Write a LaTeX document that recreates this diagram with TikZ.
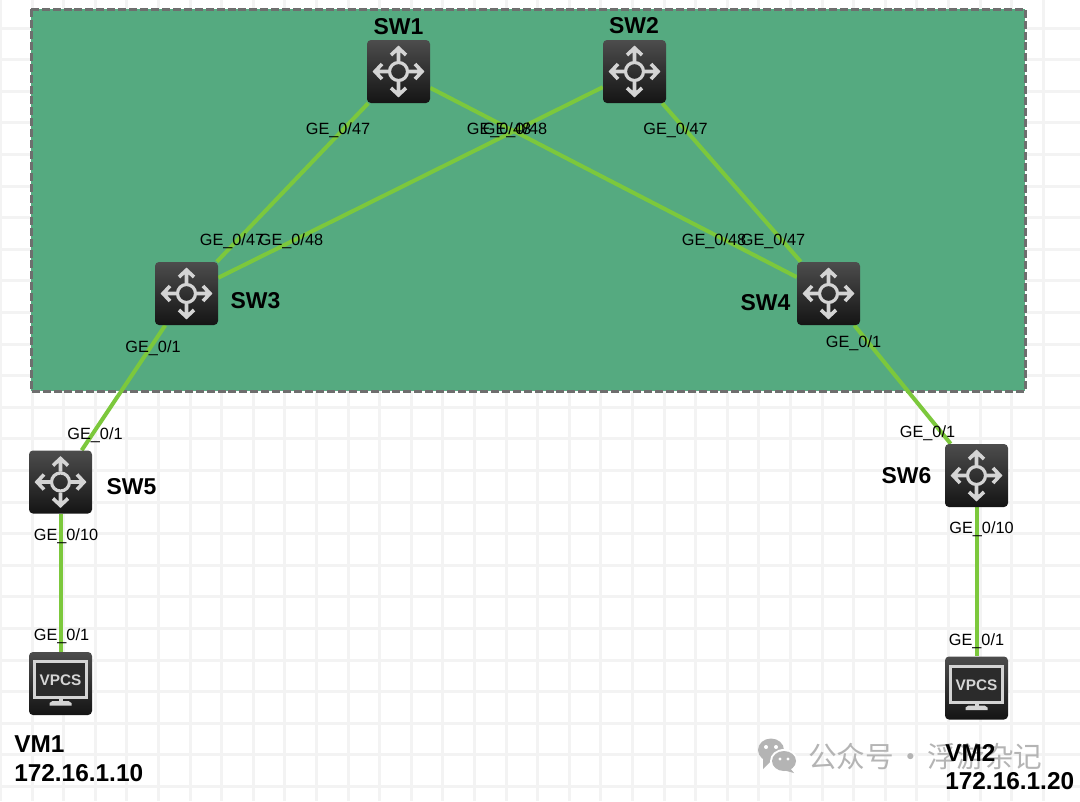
\documentclass[tikz,border=0pt]{standalone}
\usepackage{fontspec}
\setmainfont{Liberation Sans}
\newfontfamily\cjkwm{Noto Sans CJK SC}
\usetikzlibrary{backgrounds,arrows.meta}
\definecolor{zone}{HTML}{55AA80}
\definecolor{zoneedge}{HTML}{6E6E6E}
\definecolor{gridc}{HTML}{F3F3F3}
\definecolor{linkc}{HTML}{7CC83C}
\definecolor{glyphc}{HTML}{D4D4D4}
\definecolor{iconin}{HTML}{2B2B2B}
\definecolor{wmark}{HTML}{B4B4B4}
\tikzset{
  px/.style={line width=#1*0.75pt},
  iconbase/.style={minimum width=47.25pt,minimum height=47.25pt,inner sep=0pt,rounded corners=3pt,
    top color=black!70,bottom color=black!92,draw=none},
  switchbox/.style={iconbase,path picture={
    \begin{scope}[shift={(path picture bounding box.center)},glyphc,px=3.6,line cap=butt,miter limit=10,sharp corners]
      \draw (10.5,0) -- (22,0) (16.5,-7.5) -- (23.5,0) -- (16.5,7.5);
      \draw (-10.5,0) -- (-22,0) (-16.5,-7.5) -- (-23.5,0) -- (-16.5,7.5);
      \draw (0,10.5) -- (0,22) (-7.5,16.5) -- (0,23.5) -- (7.5,16.5);
      \draw (0,-10.5) -- (0,-22) (-7.5,-16.5) -- (0,-23.5) -- (7.5,-16.5);
      \draw[px=3.2] (0,0) circle (9);
    \end{scope}}},
  vpcsbox/.style={iconbase,path picture={
    \begin{scope}[shift={(path picture bounding box.center)},glyphc,sharp corners]
      \draw[px=3,fill=iconin] (-26,-22) rectangle (26,14);
      \fill (-2,14) rectangle (2,19);
      \fill (-11,19.5) -- (-8,17.5) -- (8,17.5) -- (11,19.5) -- (11,22) -- (-11,22) -- cycle;
    \end{scope}}},
  vpcstext/.style={font=\bfseries\fontsize{11.5pt}{12pt}\selectfont,text=glyphc,inner sep=0pt},
  portlabel/.style={font=\fontsize{12.2pt}{14pt}\selectfont,text=black,inner sep=0pt,text height=9pt,text depth=2.5pt},
  namelabel/.style={font=\bfseries\fontsize{17.2pt}{20pt}\selectfont,text=black,inner sep=0pt},
  hostlabel/.style={font=\bfseries\fontsize{18.3pt}{21pt}\selectfont,text=black,inner sep=0pt,anchor=west},
  linkline/.style={draw=linkc,px=4},
  wmtext/.style={font=\cjkwm\fontsize{21.5pt}{24pt}\selectfont,text=wmark,inner sep=0pt,anchor=west},
}
\begin{document}
\begin{tikzpicture}[x=0.75pt,y=-0.75pt]
\useasboundingbox (0,0) rectangle (1080,801);
% devices
\node[switchbox] (sw1) at (398.5,71.5) {};
\node[switchbox] (sw2) at (634.5,71.5) {};
\node[switchbox] (sw3) at (186.5,293.5) {};
\node[switchbox] (sw4) at (828.5,293.5) {};
\node[switchbox] (sw5) at (60.5,482) {};
\node[switchbox] (sw6) at (976.5,475.5) {};
\node[vpcsbox] (vm1) at (60.5,683.5) {};
\node[vpcsbox] (vm2) at (976.5,688) {};
\node[vpcstext] (vm1t) at (60.5,680.5) {VPCS};
\node[vpcstext] (vm2t) at (976.5,685) {VPCS};
% background: grid, zone, links
\begin{scope}[on background layer]
  \fill[white] (0,0) rectangle (1080,801);
  \foreach \k in {0,...,33}{
    \draw[gridc,px=3] ({0.4+31.6*\k},0) -- ({0.4+31.6*\k},801);
  }
  \foreach \k in {0,...,25}{
    \draw[gridc,px=3] (0,{28+31.6*\k}) -- (1080,{28+31.6*\k});
  }
  \fill[zone] (31,9) rectangle (1025,391);
  \draw[draw=zoneedge,px=3,dash pattern=on 6pt off 2.2pt] (31,9) rectangle (1025,391);
  \draw[linkline] (sw1) -- (sw3);
  \draw[linkline] (sw2) -- (sw3);
  \draw[linkline] (sw1) -- (sw4);
  \draw[linkline] (sw2) -- (sw4);
  \draw[linkline] (sw3) -- (sw5);
  \draw[linkline] (sw4) -- (sw6);
  \draw[linkline] (sw5) -- (vm1);
  \draw[linkline] (sw6) -- (vm2);
\end{scope}
% port labels
\node[portlabel] (p1) at (338,130.5) {GE\_0/47};
\node[portlabel] (p2) at (232,241.5) {GE\_0/47};
\node[portlabel] (p3) at (291,241.5) {GE\_0/48};
\node[portlabel] (p4) at (499,130.5) {GE\_0/48};
\node[portlabel] (p5) at (515,130.5) {GE\_0/48};
\node[portlabel] (p6) at (675.5,130.5) {GE\_0/47};
\node[portlabel] (p7) at (714,241.5) {GE\_0/48};
\node[portlabel] (p8) at (773,241.5) {GE\_0/47};
\node[portlabel] (p9) at (153,348.5) {GE\_0/1};
\node[portlabel] (p10) at (853.5,343.5) {GE\_0/1};
\node[portlabel] (p11) at (95,435.5) {GE\_0/1};
\node[portlabel] (p12) at (66,536.5) {GE\_0/10};
\node[portlabel] (p13) at (61.5,636.5) {GE\_0/1};
\node[portlabel] (p14) at (927.5,433.5) {GE\_0/1};
\node[portlabel] (p15) at (981.5,529.5) {GE\_0/10};
\node[portlabel] (p16) at (976.5,641) {GE\_0/1};
% device names
\node[namelabel] (n1) at (398.5,27) {SW1};
\node[namelabel] (n2) at (634,26) {SW2};
\node[namelabel] (n3) at (255.5,301) {SW3};
\node[namelabel] (n4) at (765.5,303) {SW4};
\node[namelabel] (n5) at (131.5,487) {SW5};
\node[namelabel] (n6) at (906.5,476) {SW6};
% watermark
\begin{scope}
  \fill[wmark] (771,750) ellipse (13 and 11.5);
  \fill[wmark] (763,758) -- (763,769) -- (772,760) -- cycle;
  \fill[white] (784,761) ellipse (14 and 12);
  \fill[wmark] (784,761) ellipse (12 and 10);
  \fill[wmark] (790,768) -- (794,773) -- (783,770) -- cycle;
  \fill[white] (766,747) circle (2) (776,747) circle (2) (780,759) circle (1.7) (788,759) circle (1.7);
\end{scope}
\node[wmtext] (wm) at (808,757) {公众号\hspace{-3pt} · \hspace{-3pt}浮游杂记};
% host labels
\node[hostlabel] (h1) at (14,744.5) {VM1};
\node[hostlabel] (h1a) at (14,773.5) {172.16.1.10};
\node[hostlabel] (h2) at (945,752.5) {VM2};
\node[hostlabel] (h2a) at (945,781.5) {172.16.1.20};
\end{tikzpicture}
\end{document}
